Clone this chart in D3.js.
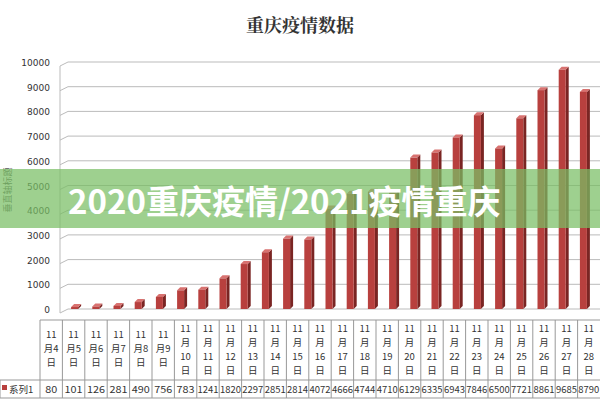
<!DOCTYPE html><html><head><meta charset="utf-8"><script src="https://cdn.jsdelivr.net/npm/d3@7"></script>
<style>body{margin:0;background:#fff}</style></head><body><svg id="c" width="600" height="400"></svg><script>
const days=["4","5","6","7","8","9","10","11","12","13","14","15","16","17","18","19","20","21","22","23","24","25","26","27","28"];
const values=[80,101,126,281,490,756,783,1241,1820,2297,2851,2814,4072,4666,4744,4710,6129,6335,6943,7846,6500,7721,8861,9685,8790];
const yTicks=[0,1000,2000,3000,4000,5000,6000,7000,8000,9000,10000];
const title="重庆疫情数据", series="系列1", banner="2020重庆疫情/2021疫情重庆";
const svg=d3.select("#c"), F="'Noto Sans CJK SC',sans-serif";
const x=d3.scaleBand().domain(days).range([40,600]);
const xb=d3.scaleBand().domain(days).range([64,594]);
const y=d3.scaleLinear().domain([0,10000]).range([309,62]);
svg.append("text").attr("x",300).attr("y",32).attr("text-anchor","middle").attr("font-family","'Noto Serif CJK SC','Noto Sans CJK SC',serif").attr("font-weight","bold").attr("font-size",18).attr("fill","#333").text(title);
yTicks.forEach(t=>{svg.append("line").attr("x1",60).attr("x2",68).attr("y1",y(t)+4).attr("y2",y(t)).attr("stroke","#bbb");
svg.append("line").attr("x1",68).attr("x2",600).attr("y1",y(t)).attr("y2",y(t)).attr("stroke","#bbb");
svg.append("text").attr("x",50).attr("y",y(t)+4).attr("text-anchor","end").attr("font-family","DejaVu Sans").attr("font-size",9).attr("fill","#333").text(t);});
svg.append("line").attr("x1",60).attr("x2",60).attr("y1",66).attr("y2",313).attr("stroke","#bbb");
svg.append("text").attr("transform","translate(11,190) rotate(-90)").attr("text-anchor","middle").attr("font-family",F).attr("font-size",9).attr("fill","#555").text("垂直轴标题");
const bw=7;
values.forEach((v,i)=>{const cx=xb(days[i])+xb.bandwidth()/2;
svg.append("path").attr("d",`M${cx+bw/2},${y(v)} l3,-3 v${y(0)-y(v)} l-3,3 Z`).attr("fill","#7a2523");
svg.append("path").attr("d",`M${cx-bw/2},${y(v)} l3,-3 h${bw} l-3,3 Z`).attr("fill","#d87270");
svg.append("rect").attr("x",cx-bw/2).attr("y",y(v)).attr("width",bw).attr("height",y(0)-y(v)).attr("fill","#b8403e");});
const g=svg.append("g").attr("font-family",F).attr("font-size",9.5).attr("fill","#333");
[320,380,398].forEach(yy=>g.append("line").attr("x1",yy==320?40:0).attr("x2",600).attr("y1",yy).attr("y2",yy).attr("stroke","#999"));
g.append("line").attr("x1",0).attr("x2",0).attr("y1",380).attr("y2",398).attr("stroke","#999");
days.forEach((d,i)=>{const x0=x(d),cx=x0+x.bandwidth()/2;
g.append("line").attr("x1",x0).attr("x2",x0).attr("y1",320).attr("y2",398).attr("stroke","#999");
const lines=d.length==1?["11","月"+d,"日"]:["11","月",d,"日"];
const start=d.length==1?338:332;
lines.forEach((l,k)=>g.append("text").attr("x",cx).attr("y",start+k*14).attr("text-anchor","middle").text(l));
g.append("text").attr("x",cx).attr("y",393).attr("text-anchor","middle").attr("font-size",9.5).attr("textLength",Math.min(21,String(values[i]).length*6)).attr("lengthAdjust","spacingAndGlyphs").text(values[i]);});
g.append("rect").attr("x",2).attr("y",385).attr("width",5).attr("height",5).attr("fill","#b8403e");
g.append("text").attr("x",9).attr("y",393).text(series);
svg.append("rect").attr("x",0).attr("y",169).attr("width",600).attr("height",59).attr("fill","rgba(120,190,100,0.72)");
svg.append("text").attr("x",68).attr("y",214).attr("font-family",F).attr("font-weight","bold").attr("font-size",33).attr("fill","#fff").text(banner);
</script></body></html>
